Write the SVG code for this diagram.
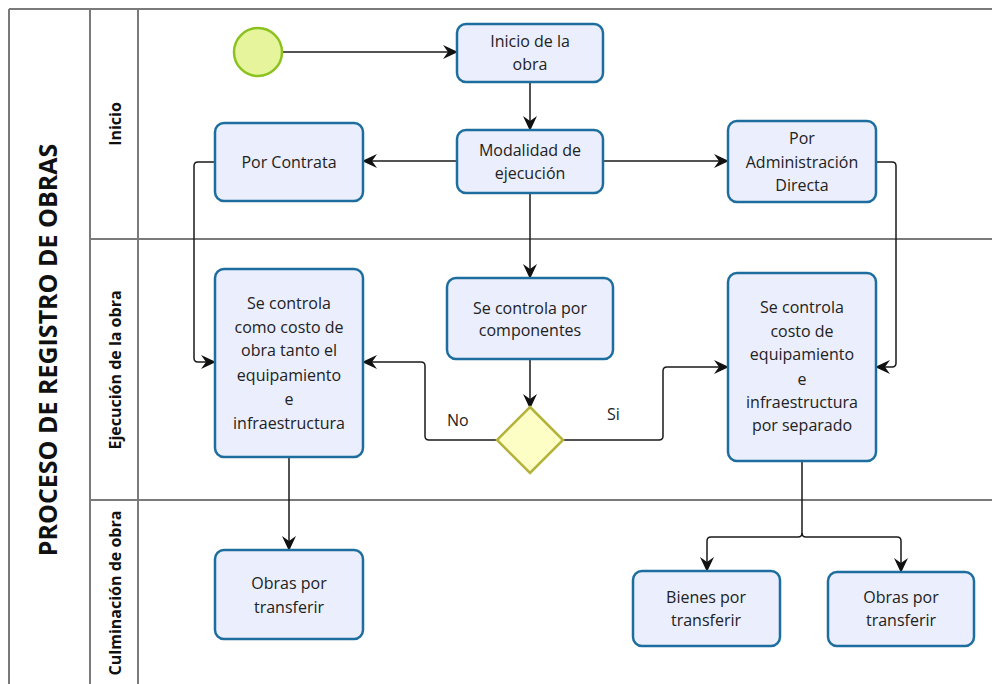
<svg xmlns="http://www.w3.org/2000/svg" width="992" height="684" viewBox="0 0 992 684">
<defs>
<style>
.lane{fill:none;stroke:#7a7a7a;stroke-width:2}
.task{fill:#eaeefd;stroke:#1d6e9e;stroke-width:2.5}
.t{font-family:"Open Sans","Noto Sans",sans-serif;font-size:16px;fill:#222;text-anchor:middle}
.lbl{font-family:"Open Sans","Noto Sans",sans-serif;font-size:16px;fill:#222}
.lh{font-family:"Open Sans","Noto Sans",sans-serif;font-size:16px;font-weight:bold;fill:#111;text-anchor:middle}
.title{font-family:"Open Sans","Noto Sans",sans-serif;font-size:25px;font-weight:bold;fill:#111;text-anchor:middle}
.c{fill:none;stroke:#1a1a1a;stroke-width:1.5}
</style>
<marker id="ah" markerUnits="userSpaceOnUse" markerWidth="16" markerHeight="16" refX="14" refY="8" orient="auto">
<path d="M0,1 L15,8 L0,15 L5,8 Z" fill="#111"/>
</marker>
</defs>
<rect width="992" height="684" fill="#fff"/>
<g id="pool">
<line class="lane" x1="9" y1="9" x2="992" y2="9"/>
<line class="lane" x1="9" y1="9" x2="9" y2="684"/>
<line class="lane" x1="90" y1="9" x2="90" y2="684"/>
<line class="lane" x1="138" y1="9" x2="138" y2="684"/>
<line class="lane" x1="90" y1="239" x2="992" y2="239"/>
<line class="lane" x1="90" y1="500" x2="992" y2="500"/>
<text class="title" transform="translate(57,350) rotate(-90)">PROCESO DE REGISTRO DE OBRAS</text>
<text class="lh" transform="translate(121,124) rotate(-90)">Inicio</text>
<text class="lh" transform="translate(121,370) rotate(-90)">Ejecución de la obra</text>
<text class="lh" transform="translate(121,593) rotate(-90)">Culminación de obra</text>
</g>
<g id="connectors">
<path class="c" d="M282,52 H457" marker-end="url(#ah)"/>
<path class="c" d="M530,82 V130" marker-end="url(#ah)"/>
<path class="c" d="M457,161 H363" marker-end="url(#ah)"/>
<path class="c" d="M603,161 H728" marker-end="url(#ah)"/>
<path class="c" d="M530,193 V278" marker-end="url(#ah)"/>
<path class="c" d="M215,162 H198 Q194,162 194,166 V358 Q194,362 198,362 H215" marker-end="url(#ah)"/>
<path class="c" d="M876,162 H892 Q896,162 896,166 V363 Q896,367 892,367 H876" marker-end="url(#ah)"/>
<path class="c" d="M530,359 V408" marker-end="url(#ah)"/>
<path class="c" d="M497,440 H429 Q425,440 425,436 V366 Q425,362 421,362 H363" marker-end="url(#ah)"/>
<path class="c" d="M563,440 H659 Q663,440 663,436 V371 Q663,367 667,367 H728" marker-end="url(#ah)"/>
<path class="c" d="M289,457 V550" marker-end="url(#ah)"/>
<path class="c" d="M802,461 V533 Q802,537 798,537 H711 Q707,537 707,541 V571" marker-end="url(#ah)"/>
<path class="c" d="M802,533 Q802,537 806,537 H897 Q901,537 901,541 V572" marker-end="url(#ah)"/>
<text class="lbl" x="447" y="426">No</text>
<text class="lbl" x="607" y="420">Si</text>
</g>
<g id="start">
<circle cx="258" cy="52" r="24" fill="#e6f59c" stroke="#8cc21f" stroke-width="2.5"/>
</g>
<g id="inicio-obra">
<rect class="task" x="457" y="24" width="146" height="58" rx="9"/>
<text class="t" x="530" y="47">Inicio de la</text>
<text class="t" x="530" y="70">obra</text>
</g>
<g id="modalidad">
<rect class="task" x="457" y="130" width="146" height="63" rx="9"/>
<text class="t" x="530" y="156">Modalidad de</text>
<text class="t" x="530" y="179">ejecución</text>
</g>
<g id="por-contrata">
<rect class="task" x="215" y="123" width="148" height="78" rx="9"/>
<text class="t" x="289" y="168">Por Contrata</text>
</g>
<g id="por-administracion">
<rect class="task" x="728" y="121" width="148" height="81" rx="9"/>
<text class="t" x="802" y="144">Por</text>
<text class="t" x="802" y="168">Administración</text>
<text class="t" x="802" y="191">Directa</text>
</g>
<g id="costo-obra">
<rect class="task" x="215" y="269" width="148" height="188" rx="9"/>
<text class="t" x="289" y="309">Se controla</text>
<text class="t" x="289" y="333">como costo de</text>
<text class="t" x="289" y="356">obra tanto el</text>
<text class="t" x="289" y="381">equipamiento</text>
<text class="t" x="289" y="405">e</text>
<text class="t" x="289" y="429">infraestructura</text>
</g>
<g id="componentes">
<rect class="task" x="447" y="278" width="166" height="81" rx="9"/>
<text class="t" x="530" y="314">Se controla por</text>
<text class="t" x="530" y="336">componentes</text>
</g>
<g id="costo-separado">
<rect class="task" x="728" y="273" width="148" height="188" rx="9"/>
<text class="t" x="802" y="313">Se controla</text>
<text class="t" x="802" y="337">costo de</text>
<text class="t" x="802" y="360">equipamiento</text>
<text class="t" x="802" y="385">e</text>
<text class="t" x="802" y="408">infraestructura</text>
<text class="t" x="802" y="431">por separado</text>
</g>
<g id="gateway">
<polygon points="530,407 563,440 530,473 497,440" fill="#fdfdc6" stroke="#b3b33a" stroke-width="2.5"/>
</g>
<g id="obras-transferir-1">
<rect class="task" x="215" y="550" width="148" height="89" rx="9"/>
<text class="t" x="289" y="589">Obras por</text>
<text class="t" x="289" y="613">transferir</text>
</g>
<g id="bienes-transferir">
<rect class="task" x="633" y="571" width="147" height="75" rx="9"/>
<text class="t" x="706" y="603">Bienes por</text>
<text class="t" x="706" y="626">transferir</text>
</g>
<g id="obras-transferir-2">
<rect class="task" x="828" y="572" width="146" height="74" rx="9"/>
<text class="t" x="901" y="603">Obras por</text>
<text class="t" x="901" y="626">transferir</text>
</g>
</svg>
